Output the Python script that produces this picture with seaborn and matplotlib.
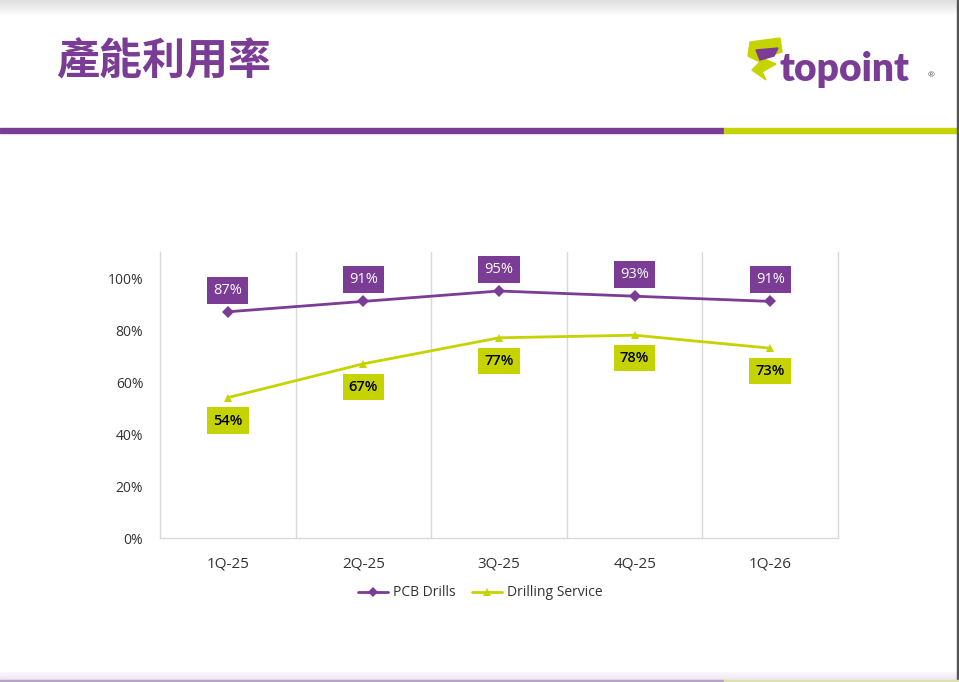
import numpy as np
import pandas as pd
import matplotlib
matplotlib.use("Agg")
import matplotlib.pyplot as plt
from matplotlib.patches import Rectangle, Polygon
from matplotlib.lines import Line2D
import seaborn as sns

quarters = ["1Q-25", "2Q-25", "3Q-25", "4Q-25", "1Q-26"]
pcb_drills = [0.87, 0.91, 0.95, 0.93, 0.91]
drilling_service = [0.54, 0.67, 0.77, 0.78, 0.73]
series_names = ["PCB Drills", "Drilling Service"]
ytick_vals = [0.0, 0.2, 0.4, 0.6, 0.8, 1.0]
title_text = "產能利用率"
logo_text = "topoint"

PURPLE = "#7B3C96"
LIME = "#C5D300"

sns.set_theme(style="white")
plt.rcParams['font.family'] = ['Open Sans', 'Noto Sans CJK TC', 'DejaVu Sans']

df = pd.DataFrame({
    "quarter": quarters * 2,
    "x": list(range(len(quarters))) * 2,
    "value": pcb_drills + drilling_service,
    "series": [series_names[0]] * len(quarters) + [series_names[1]] * len(quarters),
})

fig = plt.figure(figsize=(9.59, 6.82), dpi=100)
W, H = 959, 682

def fx(px):
    return px / W

def fy(py):
    return 1 - py / H

# top shadow gradient
gax = fig.add_axes([0, fy(16), 1, 16 / H])
grad = np.linspace(0.87, 1.0, 50).reshape(-1, 1)
gax.imshow(np.dstack([grad, grad, grad]), aspect="auto", extent=[0, 1, 0, 1], origin="upper")
gax.axis("off")
# bottom shadow gradient
bax = fig.add_axes([0, 0, 1, 10 / H])
grad2 = np.linspace(1.0, 0.92, 50).reshape(-1, 1)
bax.imshow(np.dstack([grad2 * 0.99, grad2 * 0.97, grad2]), aspect="auto", extent=[0, 1, 0, 1], origin="upper")
bax.axis("off")
fig.patches.append(Rectangle((0, 0), fx(724), 2 / H, transform=fig.transFigure,
                             color="#B9A3C4", zorder=3))
fig.patches.append(Rectangle((fx(724), 0), 1 - fx(724), 2 / H, transform=fig.transFigure,
                             color="#DDE3A8", zorder=3))

# header line
fig.patches.append(Rectangle((0, fy(133)), fx(724), 5 / H, transform=fig.transFigure,
                             color=PURPLE, zorder=2))
fig.patches.append(Rectangle((fx(724), fy(133)), 1 - fx(724), 5 / H, transform=fig.transFigure,
                             color=LIME, zorder=2))
# right border
fig.patches.append(Rectangle((fx(957), 0), 2 / W, 1, transform=fig.transFigure,
                             color="#555555", zorder=2))

# title
fig.text(fx(56), fy(61), title_text, fontsize=31, color=PURPLE,
         family=['Noto Sans CJK TC', 'DejaVu Sans'], fontweight="bold", va="center", ha="left")

# logo
fig.patches.append(Polygon([(fx(750), fy(42)), (fx(780), fy(38)), (fx(782), fy(52)),
                            (fx(762), fy(58)), (fx(776), fy(64)), (fx(762), fy(72)),
                            (fx(766), fy(80)), (fx(752), fy(70)), (fx(760), fy(62)),
                            (fx(748), fy(56))],
                           closed=True, transform=fig.transFigure, color=LIME, zorder=3))
fig.patches.append(Polygon([(fx(756), fy(50)), (fx(778), fy(48)), (fx(774), fy(56)),
                            (fx(760), fy(60))],
                           closed=True, transform=fig.transFigure, color=PURPLE, zorder=4))
logo = fig.text(fx(779), fy(69), logo_text, fontsize=28, color=PURPLE, fontweight="heavy",
                family=['Lato', 'DejaVu Sans'], va="center", ha="left")
fig.text(fx(928), fy(76), "®", fontsize=6, color="#555555", va="center", ha="left")

# main chart
ax = fig.add_axes([fx(160), fy(538), fx(838) - fx(160), (538 - 252) / H])
sns.lineplot(data=df, x="x", y="value", hue="series", style="series",
             palette={series_names[0]: PURPLE, series_names[1]: LIME},
             markers={series_names[0]: "D", series_names[1]: "^"},
             dashes=False, markersize=6, linewidth=2, markeredgewidth=0,
             ax=ax, legend=False)

ax.set_xlim(-0.5, len(quarters) - 0.5)
ax.set_ylim(0, 1.1)
ax.set_yticks(ytick_vals)
ax.set_yticklabels([f"{int(round(v * 100))}%" for v in ytick_vals], fontsize=10, color="#333333")
ax.set_xticks(range(len(quarters)))
ax.set_xticklabels(quarters, fontsize=11, color="#333333")
ax.tick_params(axis="x", length=0, pad=13)
ax.tick_params(axis="y", length=0, pad=12)
ax.set_xlabel("")
ax.set_ylabel("")
for b in np.arange(0.5, len(quarters) - 0.5, 1.0):
    ax.axvline(b, color="#D9D9D9", linewidth=1, zorder=0)
for s in ["left", "right", "bottom"]:
    ax.spines[s].set_color("#D9D9D9")
    ax.spines[s].set_linewidth(1)
ax.spines["top"].set_visible(False)
ax.grid(False)

for i, v in enumerate(pcb_drills):
    ax.annotate(f"{int(round(v * 100))}%", (i, v), xytext=(0, 15.5), textcoords="offset points",
                ha="center", va="center", fontsize=10.5, color="white",
                bbox=dict(boxstyle="square,pad=0.42", fc=PURPLE, ec="none"))
for i, v in enumerate(drilling_service):
    ax.annotate(f"{int(round(v * 100))}%", (i, v), xytext=(0, -16.5), textcoords="offset points",
                ha="center", va="center", fontsize=10.5, color="black", fontweight="semibold",
                bbox=dict(boxstyle="square,pad=0.42", fc=LIME, ec="none"))

handles = [Line2D([], [], color=PURPLE, marker="D", markersize=5, linewidth=2, markeredgewidth=0),
           Line2D([], [], color=LIME, marker="^", markersize=6, linewidth=2, markeredgewidth=0)]
fig.legend(handles, series_names, loc="center", bbox_to_anchor=(fx(480), fy(593)), ncol=2,
           frameon=False, fontsize=10, handlelength=2.2, handletextpad=0.3, columnspacing=1.2,
           labelcolor="#333333")

fig.savefig("out.png", dpi=100, facecolor="white")
